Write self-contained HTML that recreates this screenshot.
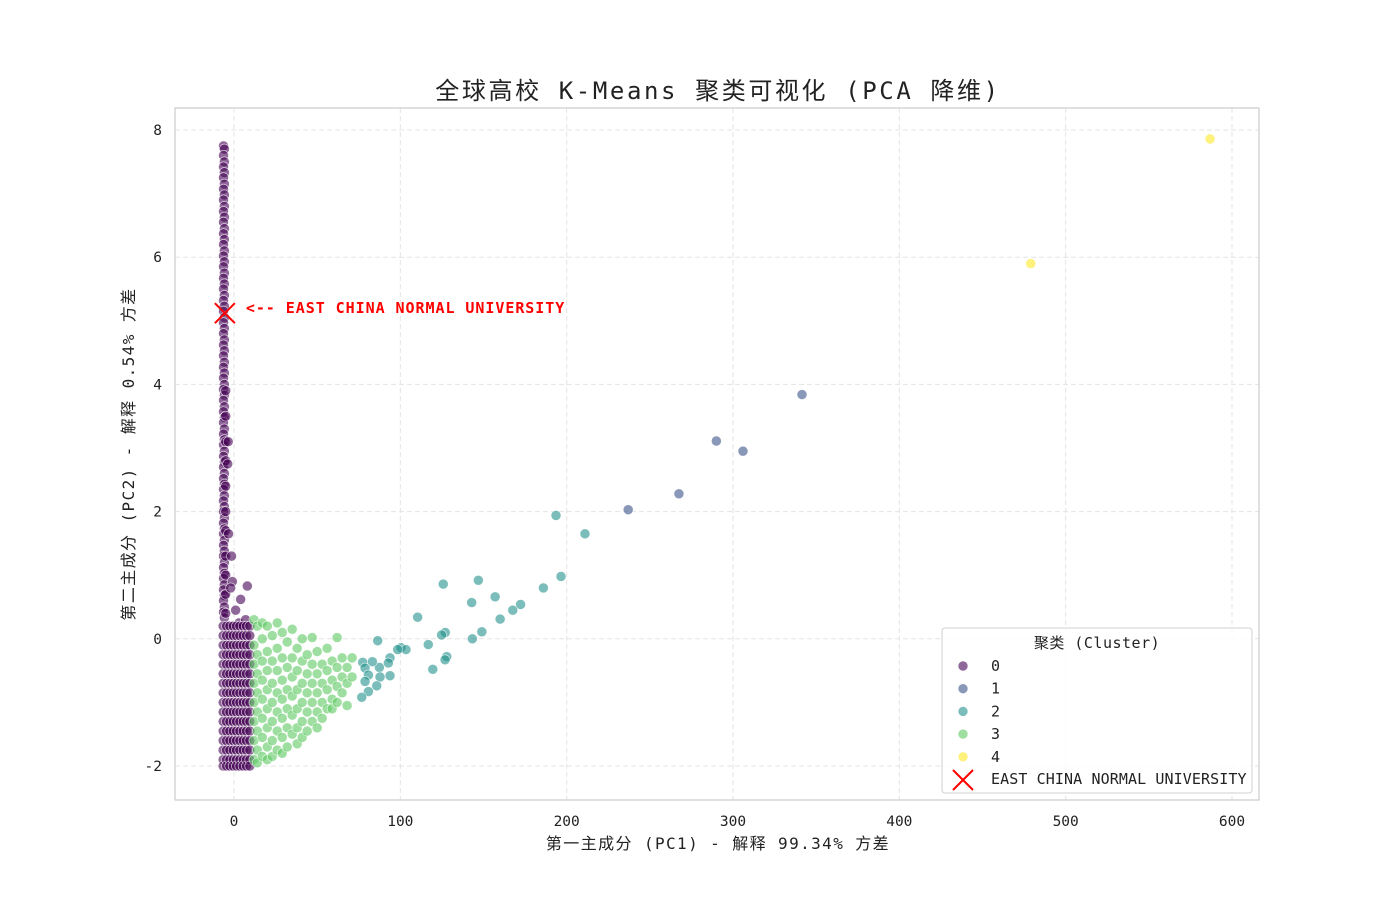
<!DOCTYPE html>
<html><head><meta charset="utf-8"><style>
body{margin:0;background:#fff}
svg text{font-family:"DejaVu Sans Mono","Liberation Mono","Noto Sans CJK SC",monospace}
</style></head><body>
<svg id="chart" width="1400" height="900" xmlns="http://www.w3.org/2000/svg">
<rect width="1400" height="900" fill="#fff"/>
<g id="grid"></g>
<g id="marks"></g>
<rect x="175" y="108" width="1084" height="692" fill="none" stroke="#cccccc" stroke-width="1.2"/>
<g id="ticks"></g>
<text x="718" y="99" text-anchor="middle" font-size="24" letter-spacing="2.6" fill="#222">全球高校 K-Means 聚类可视化 (PCA 降维)</text>
<text x="718" y="849" text-anchor="middle" font-size="16" letter-spacing="1.4" fill="#222">第一主成分 (PC1) - 解释 99.34% 方差</text>
<text transform="translate(134,454) rotate(-90)" text-anchor="middle" font-size="16" letter-spacing="1.4" fill="#222">第二主成分 (PC2) - 解释 0.54% 方差</text>
<g id="annot"></g>
<g id="legend"></g>
</svg>
<script>
const xTicks=[0,100,200,300,400,500,600];
const yTicks=[-2,0,2,4,6,8];
const clusterColors=["#440154","#3b528b","#21918c","#5ec962","#fde725"];
const clusterLabels=["0","1","2","3","4"];
const ecnu=[-5.5,5.12];
const c0ColY=[7.75,7.7,7.6,7.5,7.42,7.33,7.25,7.15,7.07,6.98,6.9,6.8,6.72,6.63,6.55,6.45,6.37,6.28,6.2,6.1,6.02,5.93,5.85,5.75,5.67,5.58,5.5,5.4,5.32,5.23,5.15,5.05,4.97,4.88,4.8,4.7,4.62,4.53,4.45,4.35,4.27,4.18,4.1,4.0,3.92,3.83,3.75,3.65,3.57,3.48,3.4,3.3,3.22,3.13,3.05,2.95,2.87,2.78,2.7,2.6,2.52,2.43,2.35,2.25,2.17,2.08,2.0,1.9,1.82,1.73,1.65,1.55,1.47,1.38,1.3,1.2,1.12,1.03,0.95,0.85,0.77,0.68,0.6,0.5,0.42,0.33];
const c0Col2Y=[3.9,3.5,3.1,2.8,2.4,2.0,1.7,1.3,1.0,0.7,0.4];
const c0Extra=[[-3.5,3.1],[-3.8,2.75],[-3.3,1.65],[-1.5,1.3],[-1,0.9],[8,0.83],[4,0.62],[3,0.25],[7,0.3],[1,0.45],[-2,0.8]];
const c0BlobX=[-6.5,-4.5,-2.5,-0.5,1.5,3.5,5.5,7.5,9.5];
const c0BlobY=[0.2,0.05,-0.1,-0.25,-0.4,-0.55,-0.7,-0.85,-1.0,-1.15,-1.3,-1.45,-1.6,-1.75,-1.9,-2.0];
const c1=[[237,2.03],[267.5,2.28],[290,3.11],[306,2.95],[341.5,3.84]];
const c2=[[125.8,0.86],[146.9,0.92],[196.6,0.98],[186,0.8],[157,0.66],[142.9,0.57],[172.3,0.54],[167.6,0.45],[110.4,0.34],[160,0.31],[149,0.11],[143.3,0.0],[127,0.1],[124.8,0.06],[86.4,-0.03],[100.4,-0.14],[103.4,-0.17],[98.4,-0.17],[116.8,-0.09],[127.9,-0.28],[126.9,-0.33],[119.5,-0.48],[93.8,-0.3],[92.8,-0.38],[87.4,-0.45],[83.2,-0.36],[77.4,-0.37],[78.8,-0.46],[93.8,-0.58],[87.8,-0.6],[80.8,-0.57],[78.8,-0.67],[85.8,-0.74],[80.8,-0.83],[76.8,-0.92],[193.6,1.94],[211,1.65]];
const c3Cols=[12,14,17,20,23,26,29,32,35,38,41,44,47,50,53,56,59,62,65,68,71];
const c3ColY=[[0.3,-0.1,-0.4,-0.7,-1.0,-1.3,-1.6,-1.9],[0.2,-0.25,-0.55,-0.85,-1.15,-1.45,-1.75,-1.95],[0.25,0.0,-0.35,-0.65,-0.95,-1.25,-1.55,-1.85],[0.2,-0.2,-0.5,-0.8,-1.1,-1.4,-1.7,-1.9],[0.05,-0.35,-0.7,-1.0,-1.3,-1.6,-1.85],[0.25,-0.15,-0.5,-0.85,-1.15,-1.45,-1.75],[0.1,-0.3,-0.65,-0.95,-1.25,-1.55,-1.8],[-0.05,-0.45,-0.8,-1.1,-1.4,-1.7],[0.15,-0.3,-0.6,-0.9,-1.2,-1.5],[-0.15,-0.5,-0.8,-1.1,-1.4,-1.65],[0.0,-0.35,-0.7,-1.0,-1.3,-1.55],[-0.25,-0.55,-0.85,-1.15,-1.45],[0.02,-0.4,-0.7,-1.0,-1.3],[-0.2,-0.55,-0.85,-1.15,-1.4],[-0.4,-0.7,-1.0,-1.25],[-0.15,-0.5,-0.8,-1.1],[-0.35,-0.65,-0.95,-1.1],[0.02,-0.45,-0.75,-1.0],[-0.3,-0.6,-0.85],[-0.45,-0.7,-1.05],[-0.3,-0.6]];
const c4=[[479,5.9],[586.8,7.86]];

const NS="http://www.w3.org/2000/svg";
const sx=v=>234+v*(1232-234)/600;
const sy=v=>766-(v+2)*(766-130)/10;
function mk(tag,attrs,parent){const e=document.createElementNS(NS,tag);for(const k in attrs)e.setAttribute(k,attrs[k]);parent.appendChild(e);return e;}
const grid=document.getElementById('grid'),ticks=document.getElementById('ticks'),marks=document.getElementById('marks');
xTicks.forEach(t=>{
 const l=mk('line',{x1:sx(t),x2:sx(t),y1:108,y2:800,stroke:'#e3e3e3','stroke-dasharray':'5,3'},grid);
 
 
 const tx=mk('text',{x:sx(t),y:826,'text-anchor':'middle','font-size':14.5,fill:'#222'},ticks);tx.textContent=t;
 
 
});
yTicks.forEach(t=>{
 const l=mk('line',{x1:175,x2:1259,y1:sy(t),y2:sy(t),stroke:'#e3e3e3','stroke-dasharray':'5,3'},grid);
 
 
 const tx=mk('text',{x:162,y:sy(t)+5,'text-anchor':'end','font-size':14.5,fill:'#222'},ticks);tx.textContent=t;
 
 
});
function dot(x,y,c){
 const e=mk('circle',{cx:sx(x),cy:sy(y),r:5,fill:clusterColors[c],'fill-opacity':0.6,stroke:'#fff','stroke-width':0.6,'stroke-opacity':0.8},marks);
 
 
}
c0ColY.forEach((y,i)=>dot(i%2?-5.8:-6.3,y,0));
c0Col2Y.forEach(y=>dot(-5.0,y,0));
c0Extra.forEach(p=>dot(p[0],p[1],0));
c0BlobX.forEach(x=>c0BlobY.forEach(y=>dot(x,y,0)));
c3Cols.forEach((x,i)=>c3ColY[i].forEach(y=>dot(x,y,3)));
c2.forEach(p=>dot(p[0],p[1],2));
c1.forEach(p=>dot(p[0],p[1],1));
c4.forEach(p=>dot(p[0],p[1],4));
const an=document.getElementById('annot');
const ex=sx(ecnu[0]),ey=sy(ecnu[1]);
const xm=mk('path',{d:`M${ex-10},${ey-10}L${ex+10},${ey+10}M${ex-10},${ey+10}L${ex+10},${ey-10}`,stroke:'#ff0000','stroke-width':2},an);


const at=mk('text',{x:ex+21,y:ey,'font-size':15,'letter-spacing':0.95,'font-weight':'bold',fill:'#ff0000'},an);at.textContent='<-- EAST CHINA NORMAL UNIVERSITY';


const lg=document.getElementById('legend');
mk('rect',{x:942,y:628,width:310,height:165,fill:'#fff','fill-opacity':0.85,stroke:'#d0d0d0',rx:3},lg);
const lt=mk('text',{x:1097,y:648,'text-anchor':'middle','font-size':15,'letter-spacing':0.5,fill:'#222'},lg);lt.textContent='聚类 (Cluster)';


clusterLabels.forEach((lab,i)=>{
 const y=666+i*22.7;
 const g=mk('g',{},lg);
 
 
 mk('circle',{cx:963,cy:y,r:5,fill:clusterColors[i],'fill-opacity':0.6,stroke:'#fff','stroke-width':0.6},g);
 const t=mk('text',{x:991,y:y+5,'font-size':15,fill:'#222'},g);t.textContent=lab;
});
const g5=mk('g',{},lg);


mk('path',{d:'M953,770L973,790M953,790L973,770',stroke:'#ff0000','stroke-width':2},g5);
const t5=mk('text',{x:991,y:784,'font-size':15,'letter-spacing':0.1,fill:'#222'},g5);t5.textContent='EAST CHINA NORMAL UNIVERSITY';
</script>
</body></html>
